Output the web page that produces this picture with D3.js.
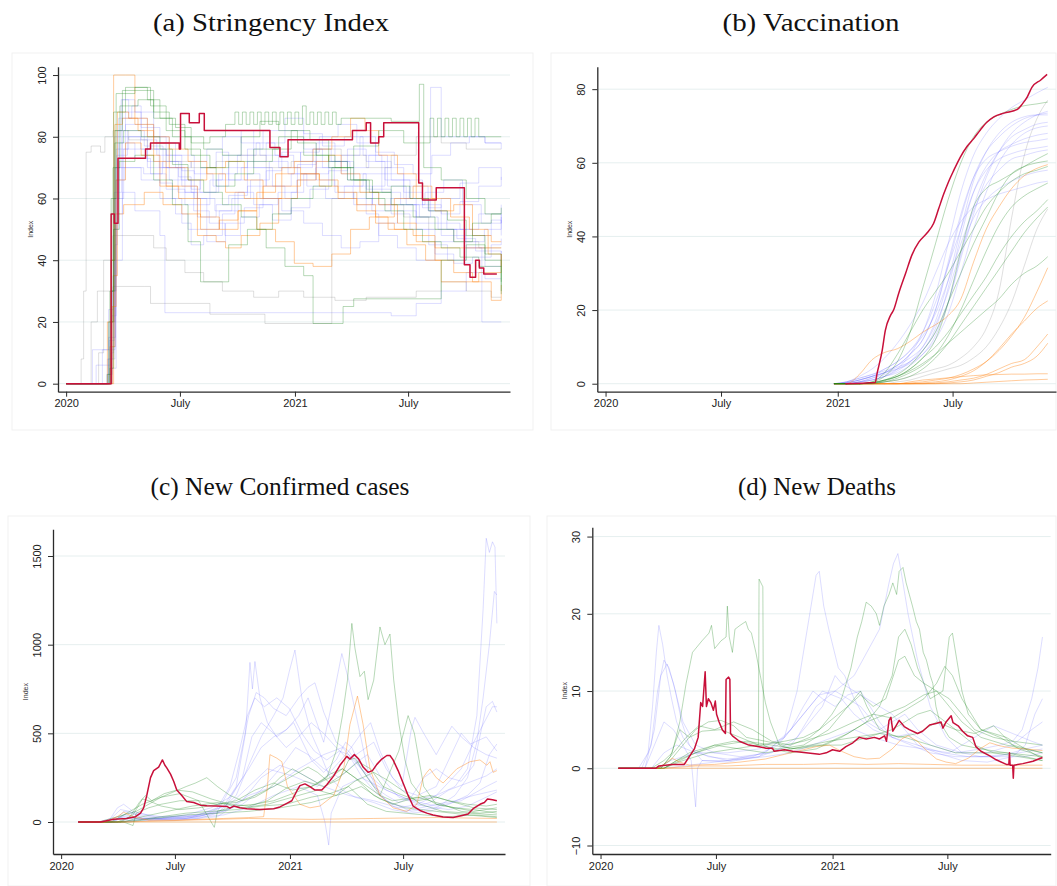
<!DOCTYPE html>
<html>
<head>
<meta charset="utf-8">
<script src="https://cdn.jsdelivr.net/npm/d3@7"></script>
<style>
  body { margin: 0; background: #fff; }
  svg { display: block; }
  .tick text, .lbl { font-family: "Liberation Sans", Arial, sans-serif; }
  .title { font-family: "Liberation Serif", "Times New Roman", serif; }
</style>
</head>
<body>
<svg id="chart" width="1057" height="886"></svg>
<script>
// ---------------------------------------------------------------
// Data: x values are days since 2020-01-01, y values per country.
// ---------------------------------------------------------------
const xTickDates  = ['2020-01-01', '2020-07-01', '2021-01-01', '2021-07-01'];
const xTickLabels = ['2020', 'July', '2021', 'July'];

// (a) Stringency index: step change points [day, value]
const stringencyRed = [[0,0],[53,0],[72,55],[77,52],[83,73],[127,76],[135,78],[181,76],[183,87.5],[197,84.5],[213,87.5],[221,82],[326,76.5],[342,73.5],[355,79],[458,82],[480,84.5],[487,78],[500,80],[508,84.5],[564,65],[570,59.5],[592,63.5],[637,38.5],[646,34.5],[655,40],[661,37.5],[668,35.5],[689,35.5]];
const stringencyBlue = [
  [[0,0],[50,0],[58,11],[70,11],[78,45],[82,82],[95,88],[120,84],[140,80],[165,72],[180,67],[200,63],[215,70],[240,75],[260,66],[290,72],[320,78],[350,82],[380,76],[410,70],[440,74],[470,80],[495,72],[520,66],[550,60],[580,56],[600,52],[630,50],[660,55],[696,48]],
  [[0,0],[40,0],[48,6],[62,6],[72,20],[78,70],[90,92],[110,88],[140,76],[160,70],[190,62],[210,58],[230,66],[250,74],[280,82],[300,70],[330,64],[350,60],[370,71],[400,78],[430,72],[460,64],[490,58],[520,55],[550,50],[580,45],[610,40],[640,44],[670,38],[696,43]],
  [[0,0],[55,0],[65,3],[74,30],[80,76],[100,80],[130,72],[150,65],[170,60],[185,52],[200,45],[220,48],[250,55],[270,62],[290,68],[310,60],[340,55],[360,62],[380,68],[420,72],[450,66],[480,55],[500,48],[530,44],[560,40],[590,46],[620,50],[650,48],[680,53],[696,52]],
  [[0,0],[35,0],[42,11],[60,11],[68,24],[76,60],[85,78],[110,73],[135,68],[160,63],[190,58],[210,54],[240,58],[260,61],[290,64],[320,69],[345,75],[375,72],[400,66],[430,62],[460,58],[490,64],[510,70],[540,66],[570,58],[600,55],[630,59],[660,64],[696,67]],
  [[0,0],[60,0],[72,10],[76,50],[84,86],[105,90],[120,83],[150,78],[175,74],[205,68],[235,64],[260,70],[290,76],[315,82],[350,86],[380,81],[410,77],[445,80],[475,74],[505,68],[540,62],[570,57],[600,60],[630,65],[660,70],[696,66]],
  [[0,0],[55,0],[68,8],[78,40],[90,62],[110,56],[150,48],[158,23],[240,23],[300,23],[400,23],[460,23],[520,22],[560,26],[600,30],[640,36],[670,34],[696,34]],
  [[0,0],[60,0],[70,20],[77,80],[88,92],[100,86],[130,80],[160,74],[185,69],[205,60],[225,50],[245,56],[275,62],[300,58],[330,53],[360,57],[390,63],[420,69],[450,76],[480,72],[510,66],[540,60],[560,50],[590,42],[620,39],[650,41],[680,45],[696,47]],
  [[0,0],[58,0],[68,15],[79,70],[95,84],[120,79],[145,74],[175,70],[200,72],[225,76],[250,80],[280,78],[310,74],[340,70],[375,75],[405,80],[435,84],[465,78],[495,75],[525,71],[555,68],[585,74],[615,78],[645,80],[670,78],[696,78]],
  [[0,0],[62,0],[74,12],[79,55],[90,70],[120,66],[150,60],[175,55],[195,50],[225,46],[255,52],[285,57],[315,60],[345,56],[380,52],[410,48],[440,44],[470,46],[500,52],[530,56],[560,52],[600,48],[640,44],[665,20],[696,20]],
  [[0,0],[60,0],[72,5],[80,60],[92,76],[130,70],[165,66],[200,62],[240,66],[280,70],[320,64],[360,68],[400,72],[440,68],[480,63],[520,58],[560,54],[583,96],[600,80],[640,80],[670,78],[696,76]],
  [[0,0],[57,0],[66,8],[75,35],[81,74],[98,82],[125,77],[155,70],[185,64],[210,60],[238,56],[265,60],[295,66],[325,72],[355,68],[385,64],[415,60],[445,64],[475,68],[505,62],[535,58],[565,54],[595,50],[625,47],[655,43],[696,40]],
  [[0,0],[63,0],[73,22],[80,66],[94,70],[124,68],[154,72],[184,66],[214,62],[244,68],[274,74],[304,78],[334,74],[364,70],[394,76],[424,72],[454,70],[484,74],[514,64],[544,58],[574,62],[604,66],[634,58],[664,52],[696,58]],
  [[0,0],[59,0],[69,14],[77,62],[89,80],[119,76],[149,70],[179,62],[204,56],[229,52],[254,48],[279,54],[309,58],[339,62],[369,66],[399,70],[429,64],[459,60],[489,56],[519,60],[549,64],[579,56],[609,50],[639,46],[669,50],[696,54]]
];
const stringencyGreen = [
  [[0,0],[60,0],[70,30],[76,88],[95,96],[130,92],[150,86],[175,83],[200,78],[230,80],[255,84],[270,88],[276,84],[282,88],[288,84],[294,88],[300,84],[306,88],[312,84],[318,88],[324,84],[330,88],[336,84],[342,88],[348,84],[354,88],[360,84],[366,88],[372,84],[378,90],[384,84],[390,88],[396,84],[402,88],[408,84],[414,88],[420,84],[426,88],[432,84],[440,86],[520,85],[565,97],[572,70],[600,66],[640,60],[670,55],[696,57]],
  [[0,0],[62,0],[72,40],[78,82],[90,95],[140,86],[170,80],[200,74],[230,70],[260,72],[300,76],[340,80],[380,74],[420,70],[460,77],[500,82],[540,78],[582,86],[588,80],[594,86],[600,80],[606,86],[612,80],[618,86],[624,80],[630,86],[636,80],[642,86],[648,80],[654,86],[660,80],[696,80]],
  [[0,0],[60,0],[70,5],[76,50],[85,72],[110,74],[140,66],[170,58],[195,46],[215,33],[240,33],[260,45],[290,50],[320,44],[350,38],[380,35],[395,19.5],[443,19.5],[443,25],[460,27.5],[587,27.5],[600,40],[640,45],[670,40],[696,29]],
  [[0,0],[58,0],[66,3],[72,60],[80,94],[110,96],[135,90],[160,82],[190,76],[215,70],[240,64],[270,68],[300,72],[330,76],[360,82],[390,79],[420,72],[450,66],[480,60],[510,56],[540,50],[570,46],[600,44],[630,41],[660,38],[696,30]],
  [[0,0],[62,0],[72,30],[78,78],[92,82],[120,80],[150,76],[170,71],[195,66],[220,62],[250,58],[280,54],[305,50],[330,55],[360,60],[395,64],[425,70],[455,66],[485,62],[520,58],[555,54],[590,50],[620,46],[650,52],[680,55],[696,55]],
  [[0,0],[60,0],[68,20],[75,70],[86,90],[115,92],[140,88],[165,84],[190,80],[220,76],[250,74],[280,80],[310,85],[340,82],[370,78],[400,74],[430,70],[460,66],[490,62],[520,64],[550,60],[580,56],[610,53],[640,48],[670,42],[696,33]]
];
const stringencyOrange = [
  [[0,0],[55,0],[66,20],[76,100],[95,100],[110,84],[140,78],[165,76],[195,72],[225,68],[255,62],[285,60],[315,64],[345,70],[375,68],[405,64],[435,60],[465,56],[495,52],[525,50],[555,48],[590,44],[620,44],[660,44],[696,44]],
  [[0,0],[60,0],[72,40],[78,84],[90,86],[115,82],[140,72],[160,64],[190,64],[210,48],[240,46],[255,44],[280,48],[310,52],[340,60],[370,66],[400,72],[420,74],[440,68],[470,62],[500,58],[530,52],[560,46],[590,40],[620,36],[650,33],[680,27],[696,32]],
  [[0,0],[62,0],[74,25],[80,66],[95,78],[120,74],[150,64],[180,60],[215,54],[245,50],[275,56],[305,62],[335,68],[365,72],[395,76],[425,80],[455,86],[478,82],[500,74],[530,68],[560,60],[590,56],[620,58],[650,48],[680,46],[696,46]],
  [[0,0],[58,0],[70,12],[78,55],[92,58],[125,62],[155,58],[185,55],[215,50],[245,53],[275,56],[305,50],[335,46],[365,39],[395,38],[425,42],[455,50],[485,54],[515,50],[545,45],[575,40],[600,33],[630,33],[660,36],[696,42]],
  [[0,0],[64,0],[76,35],[82,88],[100,86],[130,80],[165,70],[195,66],[225,70],[255,72],[285,66],[315,60],[345,64],[375,68],[405,66],[435,62],[465,58],[495,54],[525,60],[555,64],[585,60],[615,54],[645,50],[675,42],[696,38]]
];
const stringencyGray = [
  [[0,0],[20,0],[24,8],[28,30],[32,75],[40,77],[55,75],[62,80],[75,82],[100,79],[130,76],[160,72],[200,70],[240,72],[280,74],[320,70],[360,72],[400,76],[440,74],[480,70],[520,74],[560,80],[600,78],[640,76],[696,76]],
  [[0,0],[35,0],[40,20],[50,30],[60,40],[75,48],[110,48],[140,44],[160,40],[190,36],[220,33],[250,30],[300,28],[340,30],[380,28],[430,27],[480,28],[520,28],[560,30],[600,33],[640,30],[680,28],[696,28]],
  [[0,0],[45,0],[52,10],[60,30],[75,31.5],[125,31.5],[135,26],[200,26],[230,22.5],[290,22.5],[318,19.5],[420,19.5],[425,60],[460,62],[500,58],[540,54],[580,50],[620,46],[660,44],[696,44]]
];

// (b) Vaccination: share vaccinated on a common day grid
const vaxDays = [360,380,400,420,440,460,480,500,520,540,560,580,600,620,640,660,680,697];
const vaccinationRed = [[378,0],[425,0.3],[428,2.8],[436,9],[441,14.5],[449,18.5],[454,20],[462,24.5],[473,30],[483,35],[494,38.5],[507,41],[517,43.5],[525,47.5],[533,51.5],[541,55],[549,58],[559,61.5],[570,64.5],[580,66.5],[591,69],[601,71],[612,72.5],[628,73.5],[649,74.5],[657,76],[665,78],[672,80.5],[686,82.5],[696,84]];
const vaccinationBlue = [
  [0,0,0.5,1,2,4,8,14,24,38,52,62,68,72,75,77,79,80.5],
  [0,0,0.5,1.5,3,5,8,12,20,32,45,56,63,67,70,72,73,73.5],
  [0,0.2,1,2,3,4.5,6,9,15,26,40,52,59,63,65,66.5,67.5,68],
  [0,0.5,1.5,2.5,4,6,9,13,19,28,38,47,54,58,61,62,63,63.5],
  [0,0.3,1,2,3,5,7,10,16,25,36,45,50,53,55,56.5,57.5,58],
  [0,0.5,2,4,7,11,16,22,30,38,44,48,50,51.5,52.5,53.5,54.5,55],
  [0,0,0.5,1,2,3.5,6,10,17,28,42,55,63,68,71,72.5,73,73],
  [0,0,0.3,1,2,3,5,8,13,22,35,48,57,63,67,69,70.5,71],
  [0,0.5,1.5,2.5,3.5,5,8,12,20,33,46,56,61,63,64.5,65.5,66,66.5],
  [0,0.2,1,2,4,6,9,14,22,32,42,52,58,61,62.5,63.5,64,64.5],
  [0,0,0.5,1.5,2.5,4,6,9,14,22,34,46,56,63,68,71,73,74],
  [0,0.3,1,2,3,4,5.5,8,12,19,30,42,52,60,65,68,69.5,70]
];
const vaccinationGreen = [
  [0,0,0,0.5,2,6,14,26,38,50,60,67,71,73,74.5,75.5,76,76.5],
  [0,0,0,0.3,1,2,4,7,12,22,36,48,53,55,57,59,61,62.5],
  [0,0,0,0.2,0.5,1.5,3,5,8,13,20,28,36,43,48,51,53,54.5],
  [0,0,0,0.2,0.8,2,4,7,10,14,19,24,29,35,40,44,47,50],
  [0,0,0,0,0.5,1,2,4,7,11,16,21,26,31,36,41,45,48],
  [0,0,0,0.3,1,2,3.5,5.5,8,11,14,17,20,23,27,30,32,34.5],
  [0,0,0,0.2,1,2.5,5,9,14,22,30,38,45,52,57,59,60,60.5],
  [0,0,0,0.5,3,8,14,20,25,30,36,42,48,52,55,57,58,59]
];
const vaccinationOrange = [
  [0,0,2.5,6.5,8.5,9.5,11.5,14,16,18.5,23,33,42,48,53,56.5,58.5,59.5],
  [0,0,0,0,0,0,0.2,0.5,1,1.5,2.5,4,6,9,13,18,25,31.5],
  [0,0,0,0,0,0,0,0.2,0.5,1,2,3.5,6,9.5,13.5,17,20.5,22.5],
  [0,0,0,0,0,0,0,0,0.2,0.5,1,1.5,2.5,4,5.5,6.5,10,13.5],
  [0,0,0,0,0,0,0,0,0,0.2,0.5,1,2,3,4.5,5.5,7.5,11],
  [0,0,0,0,0,0,0.5,1,1.3,1.6,1.9,2.2,2.4,2.5,2.6,2.6,2.7,2.7],
  [0,0,0,0,0,0,0,0,0,0,0,0.2,0.4,0.6,0.8,1,1.1,1.2]
];
const vaccinationGray = [
  [0,0,0,0,0.5,1,2,3,4,5,7,10,15,25,45,62,72,77],
  [0,0,0,0,0,0.5,1,2,3,4,5,7,10,15,22,32,42,47.5]
];

// (c) New confirmed cases: [day, value]
const casesRed = [[27,0],[63,0],[84,15],[105,20],[119,30],[127,50],[132,80],[137,150],[143,250],[148,290],[156,310],[159,330],[162,350],[166,320],[169,305],[175,270],[180,230],[185,180],[193,150],[201,115],[212,110],[223,95],[233,92],[249,90],[265,88],[270,78],[276,90],[286,80],[297,75],[318,70],[340,75],[350,85],[361,105],[369,120],[377,175],[382,205],[390,215],[398,200],[406,180],[417,180],[425,210],[436,260],[446,320],[457,370],[462,355],[469,380],[476,355],[483,310],[491,280],[498,290],[505,325],[513,355],[521,375],[526,375],[531,350],[539,290],[547,220],[555,150],[563,90],[574,65],[585,50],[595,40],[611,28],[627,25],[643,38],[651,45],[659,75],[670,100],[677,110],[682,130],[690,125],[697,120]];
const casesBlue = [
  [[28,0],[60,0],[80,20],[95,70],[110,60],[130,20],[160,15],[200,20],[230,40],[260,90],[280,200],[295,500],[302,900],[306,750],[310,905],[318,700],[330,560],[345,480],[360,520],[372,560],[385,460],[400,350],[420,280],[440,350],[455,450],[465,420],[480,300],[500,200],[520,150],[540,110],[560,140],[580,250],[600,300],[620,250],[640,230],[660,320],[680,650],[690,680],[697,620]],
  [[28,0],[70,0],[90,30],[110,25],[140,10],[180,10],[220,20],[250,50],[280,150],[300,320],[320,480],[340,600],[355,700],[365,850],[374,970],[385,700],[400,500],[415,380],[430,250],[450,180],[470,140],[500,110],[530,70],[560,50],[590,60],[620,100],[650,150],[670,220],[685,380],[697,440]],
  [[28,0],[80,0],[100,40],[120,30],[160,20],[200,40],[240,80],[270,140],[300,300],[320,420],[340,480],[360,520],[380,600],[395,700],[405,600],[420,450],[435,700],[449,950],[460,800],[475,550],[490,300],[510,150],[530,90],[550,60],[575,80],[600,100],[630,120],[660,150],[697,180]],
  [[28,0],[75,0],[90,80],[100,100],[115,60],[150,30],[200,30],[250,60],[280,250],[300,600],[312,730],[325,700],[340,640],[360,600],[380,700],[395,760],[406,785],[420,620],[440,450],[460,400],[480,500],[495,560],[510,400],[530,250],[545,200],[560,520],[566,590],[580,500],[600,380],[625,540],[640,480],[660,420],[680,380],[697,360]],
  [[28,0],[80,0],[100,30],[130,20],[200,15],[250,30],[290,120],[320,250],[350,320],[380,280],[420,200],[460,150],[500,120],[540,80],[570,100],[600,150],[630,200],[650,300],[665,600],[675,1200],[680,1600],[685,1520],[690,1580],[694,1550],[697,1120]],
  [[28,0],[85,0],[100,60],[120,50],[160,30],[220,40],[270,100],[300,200],[330,300],[370,260],[410,200],[440,320],[460,400],[480,300],[520,120],[560,60],[600,80],[630,150],[650,250],[665,450],[675,700],[685,1000],[693,1300],[697,1280]],
  [[28,0],[90,0],[110,20],[150,15],[200,20],[260,60],[300,150],[340,200],[380,300],[420,380],[450,420],[480,300],[520,180],[560,120],[600,150],[640,300],[660,450],[675,550],[690,650],[697,650]],
  [[28,0],[100,0],[140,10],[200,20],[260,40],[300,80],[340,150],[380,200],[410,150],[422,0],[428,-130],[432,50],[450,200],[480,250],[520,180],[560,120],[600,90],[640,120],[680,200],[697,230]],
  [[28,0],[95,0],[120,15],[160,20],[210,30],[250,80],[270,200],[285,400],[298,600],[310,700],[325,650],[345,700],[365,640],[385,500],[405,400],[425,350],[445,400],[460,380],[480,260],[505,160],[530,100],[560,80],[590,110],[620,180],[650,220],[680,260],[697,300]],
  [[28,0],[85,0],[105,50],[125,40],[160,20],[220,30],[260,70],[290,250],[305,480],[320,560],[340,500],[360,420],[380,480],[400,560],[420,500],[440,420],[460,350],[480,400],[500,450],[520,300],[545,180],[570,150],[600,200],[620,350],[640,500],[655,440],[680,480],[697,400]],
  [[28,0],[100,0],[140,20],[200,30],[250,50],[290,100],[320,180],[350,300],[375,420],[395,380],[420,300],[445,250],[470,330],[490,380],[510,260],[540,140],[580,90],[620,70],[650,90],[680,140],[697,170]]
];
const casesGreen = [
  [[28,0],[60,0],[80,20],[100,40],[130,100],[160,140],[190,160],[220,120],[250,100],[280,120],[310,180],[340,220],[370,180],[400,200],[425,250],[440,400],[450,600],[458,800],[465,1120],[470,980],[478,820],[485,850],[491,690],[500,800],[510,1100],[518,1000],[526,1060],[532,800],[540,560],[550,350],[560,220],[575,150],[600,100],[630,80],[660,60],[697,80]],
  [[28,0],[80,0],[100,40],[120,60],[140,100],[160,140],[180,170],[200,200],[215,220],[233,250],[250,200],[270,150],[290,120],[310,140],[330,180],[350,250],[370,300],[390,260],[410,220],[430,270],[450,300],[470,250],[490,200],[510,150],[530,120],[550,130],[570,140],[590,120],[610,100],[640,60],[670,50],[697,60]],
  [[28,0],[90,0],[110,30],[125,110],[135,150],[145,120],[165,160],[185,180],[210,170],[240,130],[270,100],[300,90],[330,120],[360,190],[390,230],[420,200],[445,240],[460,350],[470,360],[490,250],[510,150],[540,400],[555,600],[565,500],[580,200],[600,100],[630,80],[660,70],[697,50]],
  [[28,0],[100,0],[115,-20],[120,50],[140,80],[160,100],[190,120],[220,120],[245,-30],[250,60],[280,90],[310,100],[340,120],[370,160],[400,200],[430,250],[450,300],[470,250],[500,150],[530,100],[560,130],[590,150],[620,120],[650,100],[680,90],[697,100]],
  [[28,0],[90,0],[120,10],[160,30],[200,50],[240,60],[280,70],[320,90],[360,100],[400,140],[430,160],[460,200],[490,100],[520,60],[550,50],[580,40],[620,30],[660,40],[697,30]],
  [[28,0],[95,0],[115,40],[130,130],[140,120],[160,90],[190,70],[220,80],[250,100],[280,110],[310,150],[340,200],[370,260],[395,310],[410,280],[430,220],[455,280],[475,340],[495,300],[515,200],[540,160],[570,120],[600,140],[630,110],[660,80],[697,70]],
  [[28,0],[100,0],[130,30],[170,60],[210,90],[250,110],[290,80],[330,100],[370,140],[410,180],[440,150],[470,230],[500,280],[520,240],[545,180],[575,100],[610,60],[650,50],[697,40]],
  [[28,0],[110,0],[150,20],[200,40],[250,50],[300,60],[350,80],[400,110],[450,160],[480,200],[510,130],[550,80],[600,60],[650,40],[697,25]]
];
const casesOrange = [
  [[28,0],[70,0],[90,30],[100,55],[115,30],[140,10],[180,10],[220,15],[260,20],[300,25],[324,30],[330,200],[334,380],[345,360],[353,340],[362,200],[382,100],[398,80],[414,90],[436,150],[452,300],[462,550],[474,710],[483,550],[494,300],[510,150],[531,80],[553,60],[569,100],[579,250],[585,280],[590,300],[600,250],[611,220],[633,300],[654,340],[670,350],[681,320],[686,340],[691,280],[697,290]],
  [[28,0],[100,0],[200,10],[300,20],[400,15],[500,20],[600,25],[697,20]],
  [[28,0],[697,0]]
];

// (d) New deaths: [day, value]
const deathsRed = [[28,0],[87,0],[92,0.3],[113,0.5],[132,0.5],[140,1.5],[148,2.5],[154,4],[158,8.5],[161,8],[165,12.5],[167,8],[170,9],[174,8.5],[178,7.5],[181,8.7],[183,7],[187,6],[192,5],[197,4.5],[198,11.5],[202,11.8],[204,11.5],[205,4.5],[208,4.2],[219,3.5],[234,3],[250,2.8],[261,2.6],[271,2.6],[274,2.2],[290,2.4],[303,2.2],[324,2.0],[345,1.8],[356,2.0],[366,2.4],[377,2.2],[387,2.8],[398,3.3],[408,4.0],[419,3.8],[432,4.0],[440,3.8],[448,4.2],[451,3.5],[455,6.2],[458,6.6],[461,4.8],[466,5.5],[471,6.2],[479,5.4],[487,5.0],[500,4.5],[508,4.8],[519,5.6],[529,5.8],[537,6.0],[540,5.2],[545,6.0],[553,6.8],[556,5.9],[564,5.5],[571,4.8],[579,4.2],[587,4.0],[592,2.8],[600,2.2],[614,1.6],[624,1.1],[640,0.5],[644,0.5],[645,2.0],[646,0.4],[650,0.4],[651,-1.3],[652,0.4],[666,0.6],[682,0.9],[697,1.4]];
const deathsBlue = [
  [[28,0],[60,0],[75,2],[82,8],[88,15],[92,18.5],[98,16],[105,12],[112,9],[120,6],[130,4],[145,2.5],[170,1.5],[200,1.2],[240,1.5],[280,3],[300,5],[320,8],[335,10],[350,9],[370,8],[390,9.5],[410,10],[425,8],[440,6],[460,4],[490,3],[520,2],[560,1.5],[600,1.5],[640,1.8],[670,2.5],[697,3]],
  [[28,0],[65,0],[80,3],[90,10],[100,14],[108,13],[118,10],[128,6],[140,3],[160,1],[200,0.8],[250,1.5],[290,4],[310,10],[320,15],[330,20],[340,25],[345,25.5],[352,21],[360,18],[375,13],[385,12],[400,9],[420,6],[440,5],[460,6],[480,7],[500,5],[530,3],[570,2],[610,2],[650,3],[680,5],[697,6]],
  [[28,0],[70,0],[85,5],[95,12],[105,13.5],[115,11],[130,6],[150,3],[180,2],[220,1.5],[270,2],[310,4],[340,8],[370,10],[400,12],[420,15],[440,18],[455,24],[462,26.5],[469,27.8],[475,25],[485,20],[500,14],[520,8],[545,4],[570,2],[600,1.5],[640,1.5],[670,1.5],[697,2]],
  [[28,0],[70,0],[90,4],[100,6],[115,5],[130,3],[143,1],[147,-2.5],[150,-5],[153,0],[160,1],[200,1],[250,1.5],[300,3],[330,6],[350,8],[370,12],[380,11],[400,10],[420,9],[440,8],[460,7],[480,5],[500,3],[530,2],[570,1],[610,0.8],[650,1.5],[670,3],[685,7],[697,9]],
  [[28,0],[80,0],[100,2],[120,3],[150,2],[200,1],[260,2],[300,5],[330,8],[350,10],[380,9],[400,7],[430,5],[460,4],[490,4.5],[520,3],[560,2],[600,2.5],[630,3],[650,3.5],[665,5],[680,9],[690,13],[697,17]],
  [[28,0],[90,0],[110,1],[150,2],[200,2],[250,2.5],[290,4],[320,7],[345,9.5],[370,10],[390,9],[410,8],[430,6],[460,4],[500,3],[540,2],[580,1.5],[620,1.5],[660,2],[697,2.5]],
  [[28,0],[100,0],[150,0.5],[200,1],[260,1.5],[300,2],[350,3.5],[400,5],[430,4],[470,3],[510,2.5],[550,2],[590,4],[620,5.5],[650,4.5],[680,3.5],[697,3]]
];
const deathsGreen = [
  [[28,0],[80,0],[100,1],[113,2],[125,6],[135,11],[145,15],[160,16.5],[171,17.5],[175,18.5],[180,15.5],[190,16.5],[198,17],[200,21],[203,17],[208,15],[212,18],[220,18.5],[229,19],[233,18],[238,17.5],[245,15],[252,12],[260,8.5],[268,6],[282,3],[300,2.5],[330,3],[360,3.5],[400,4],[440,4.5],[480,4],[520,3],[560,2],[600,2],[640,2],[697,1.5]],
  [[28,0],[100,0],[120,1],[150,2],[180,3],[210,3.5],[240,3.2],[249,3],[250,24.5],[256,23.5],[257,3],[270,2.5],[300,2],[340,2.5],[380,4],[420,6],[440,8],[460,12],[470,17],[480,18],[490,16],[500,13],[510,11],[520,9],[540,10],[550,17],[555,17.5],[562,14],[570,10],[580,7],[600,5],[630,4],[660,2.5],[697,1.5]],
  [[28,0],[100,0],[130,1],[170,2],[210,2.5],[250,3],[290,3.5],[320,4],[345,5],[365,7],[380,9],[395,13],[405,17],[412,19],[419,21.5],[427,21],[435,20],[440,18.5],[447,21],[455,22.5],[461,24],[467,22.5],[471,25.5],[477,26],[482,24],[487,22.5],[492,21],[498,19],[503,18],[509,15],[514,14],[520,12],[524,11],[529,8],[535,6],[550,4],[570,3],[600,2.5],[640,2],[670,1.5],[697,1]],
  [[28,0],[90,0],[110,1],[130,3],[150,5],[170,6],[190,6.2],[210,5.5],[230,4],[260,3.5],[290,3],[320,3.5],[360,4.5],[400,6],[430,7],[460,6.5],[490,8],[510,9],[530,11],[543,13.2],[555,12],[570,9],[585,7],[600,5],[620,4.5],[640,4],[660,3],[697,1.2]],
  [[28,0],[95,0],[110,1.5],[125,5],[140,4],[160,4.8],[190,5],[220,4],[250,3],[280,2.5],[320,3],[360,5],[380,7],[400,9],[410,10],[420,8],[440,5],[470,4],[500,4.5],[530,6],[560,5],[590,3],[620,2],[660,1.5],[697,1]],
  [[28,0],[100,0],[140,2],[180,3],[220,2.5],[260,2],[300,2.5],[340,3],[380,3],[420,4],[460,5],[500,7],[520,7.5],[560,5],[590,4.5],[620,5.5],[650,3],[697,2]],
  [[28,0],[95,0],[115,2],[135,4],[155,5.5],[180,5],[210,6],[240,5],[270,3.5],[300,3],[330,4],[360,6],[390,8],[410,9.5],[430,8],[450,9],[470,14],[480,14.5],[495,12],[510,11],[530,10],[550,8],[570,6],[600,4],[640,3],[697,2]],
  [[28,0],[100,0],[125,1],[150,2],[190,3],[230,3.5],[270,3],[310,2.5],[350,3],[390,4.5],[420,6],[450,7],[480,8],[510,9.5],[530,10],[550,9],[570,7],[590,5],[620,4],[650,3.5],[697,3]]
];
const deathsOrange = [
  [[28,0],[90,0],[105,0.8],[113,1.3],[125,0.8],[140,0.4],[180,0.5],[220,0.8],[260,1.2],[290,1.8],[320,2.4],[340,2.8],[361,3],[380,2.2],[400,1.5],[420,1.2],[440,1.3],[460,2.5],[475,3.8],[485,4.2],[500,3.5],[515,2.2],[530,1.2],[545,0.8],[560,0.6],[580,1.3],[600,2.6],[614,3.3],[630,2.9],[650,2.6],[670,2.5],[697,2.3]],
  [[28,0],[100,0],[150,0.3],[200,0.3],[260,0.5],[320,0.5],[370,0.6],[420,0.5],[470,0.6],[520,0.5],[570,0.4],[620,0.4],[697,0.4]],
  [[28,0],[697,0]]
];

// ---------------------------------------------------------------
// Drawing
// ---------------------------------------------------------------
const COLOR = {
  blue:   'rgba(85,85,255,0.2)',
  green:  'rgba(20,130,20,0.3)',
  orange: 'rgba(255,130,20,0.42)',
  gray:   'rgba(110,110,110,0.22)',
  red:    '#c8103a'
};

const svg = d3.select('#chart');
const ORIGIN = Date.UTC(2020, 0, 1);
const dayToDate = d => new Date(ORIGIN + d * 864e5);
const xDomain = [new Date(Date.UTC(2019, 11, 19)), new Date(Date.UTC(2021, 11, 11))];
const tickDates = xTickDates.map(s => new Date(s + 'T00:00:00Z'));

const vaxPairs = rows => rows.map(r => r.map((v, i) => [vaxDays[i], v]));

const panels = [
  { title: '(a) Stringency Index', tx: 271, ty: 31, tw: 236,
    left: 58, right: 510, top: 66.7, bottom: 391.7, yDomain: [-2.6, 102.7], yTicks: [0, 20, 40, 60, 80, 100],
    frame: [12, 53, 533, 430], curve: d3.curveStepAfter,
    groups: [['gray', stringencyGray], ['blue', stringencyBlue], ['orange', stringencyOrange], ['green', stringencyGreen]],
    red: stringencyRed },
  { title: '(b) Vaccination', tx: 811, ty: 31, tw: 177,
    left: 597.3, right: 1056, top: 66.7, bottom: 391.7, yDomain: [-2.17, 86.1], yTicks: [0, 20, 40, 60, 80],
    frame: [551, 53, 1056, 430], curve: d3.curveMonotoneX,
    groups: [['gray', vaxPairs(vaccinationGray)], ['blue', vaxPairs(vaccinationBlue)], ['orange', vaxPairs(vaccinationOrange)], ['green', vaxPairs(vaccinationGreen)]],
    red: vaccinationRed },
  { title: '(c) New Confirmed cases', tx: 280, ty: 495, tw: 259,
    left: 53, right: 505, top: 529.3, bottom: 854, yDomain: [-180.4, 1650.6], yTicks: [0, 500, 1000, 1500],
    frame: [8, 516, 530, 886], curve: d3.curveLinear,
    groups: [['blue', casesBlue], ['green', casesGreen], ['orange', casesOrange]],
    red: casesRed },
  { title: '(d) New Deaths', tx: 817, ty: 495, tw: 158,
    left: 592.3, right: 1050.7, top: 527.3, bottom: 854, yDomain: [-11.1, 31.2], yTicks: [-10, 0, 10, 20, 30],
    frame: [547, 516, 1056, 886], curve: d3.curveLinear,
    groups: [['blue', deathsBlue], ['green', deathsGreen], ['orange', deathsOrange]],
    red: deathsRed }
];

panels.forEach(p => {
  const g = svg.append('g');

  g.append('rect')
    .attr('x', p.frame[0]).attr('y', p.frame[1])
    .attr('width', p.frame[2] - p.frame[0]).attr('height', p.frame[3] - p.frame[1])
    .attr('fill', 'none').attr('stroke', '#f1f1f1').attr('stroke-width', 1);

  const x = d3.scaleUtc().domain(xDomain).range([p.left, p.right]);
  const y = d3.scaleLinear().domain(p.yDomain).range([p.bottom, p.top]);

  // horizontal grid
  g.append('g').selectAll('line').data(p.yTicks).join('line')
    .attr('x1', p.left).attr('x2', p.right)
    .attr('y1', d => y(d)).attr('y2', d => y(d))
    .attr('stroke', '#e6efef').attr('stroke-width', 1);

  const line = d3.line()
    .x(d => x(dayToDate(d[0])))
    .y(d => y(d[1]))
    .curve(p.curve);

  p.groups.forEach(([col, series]) => {
    g.append('g').selectAll('path').data(series).join('path')
      .attr('d', line)
      .attr('fill', 'none')
      .attr('stroke', COLOR[col])
      .attr('stroke-width', 1)
      .attr('stroke-linejoin', 'round');
  });

  g.append('path')
    .datum(p.red)
    .attr('d', line)
    .attr('fill', 'none')
    .attr('stroke', COLOR.red)
    .attr('stroke-width', 1.5)
    .attr('stroke-linejoin', 'round');

  // y axis with rotated labels
  const yAxis = g.append('g')
    .attr('transform', `translate(${p.left},0)`)
    .call(d3.axisLeft(y).tickValues(p.yTicks).tickSize(5).tickSizeOuter(0).tickFormat(d3.format('d')));
  yAxis.select('.domain').attr('stroke', '#2b2b2b').attr('stroke-width', 1.3);
  yAxis.selectAll('.tick line').attr('stroke', '#2b2b2b').attr('stroke-width', 1);
  yAxis.selectAll('.tick text')
    .attr('x', null).attr('dy', null)
    .attr('transform', 'translate(-12,0) rotate(-90)')
    .attr('text-anchor', 'middle')
    .attr('fill', '#222')
    .style('font-size', '11px');

  // x axis
  const xAxis = g.append('g')
    .attr('transform', `translate(0,${p.bottom})`)
    .call(d3.axisBottom(x).tickValues(tickDates).tickSize(5).tickSizeOuter(0)
      .tickFormat((d, i) => xTickLabels[i]));
  xAxis.select('.domain').attr('stroke', '#2b2b2b').attr('stroke-width', 1.3);
  xAxis.selectAll('.tick line').attr('stroke', '#2b2b2b').attr('stroke-width', 1);
  xAxis.selectAll('.tick text')
    .attr('y', 8)
    .attr('fill', '#222')
    .style('font-size', '11px');

  // axis title
  g.append('text')
    .attr('class', 'lbl')
    .attr('transform', `translate(${p.left - 25},${(p.top + p.bottom) / 2}) rotate(-90)`)
    .attr('text-anchor', 'middle')
    .style('font-size', '7px')
    .attr('fill', '#333')
    .text('Index');

  // panel title
  g.append('text')
    .attr('class', 'title')
    .attr('x', p.tx).attr('y', p.ty)
    .attr('text-anchor', 'middle')
    .attr('textLength', p.tw)
    .attr('lengthAdjust', 'spacingAndGlyphs')
    .style('font-size', '26px')
    .attr('fill', '#111')
    .text(p.title);
});
</script>
</body>
</html>
